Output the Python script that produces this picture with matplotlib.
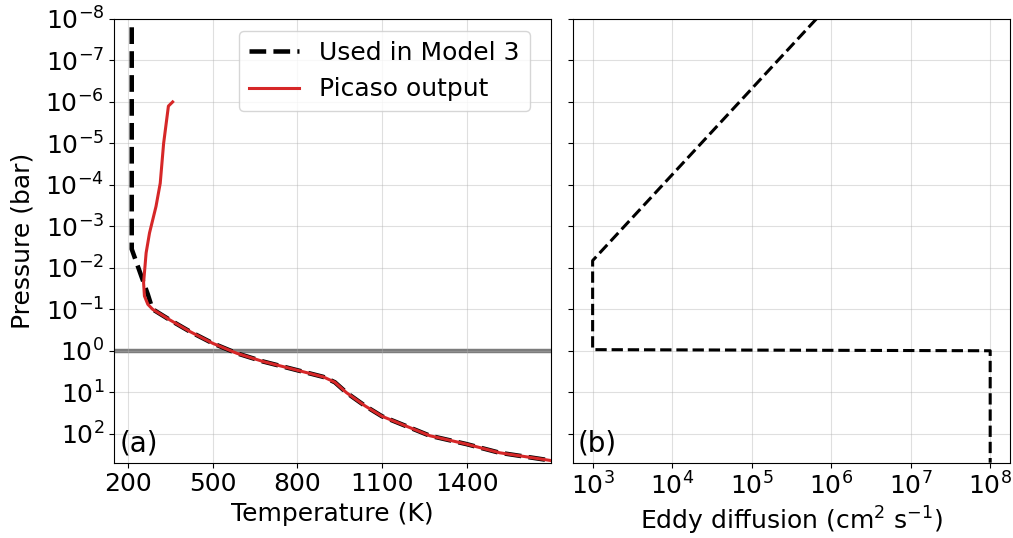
import numpy as np
import matplotlib
matplotlib.use("Agg")
import matplotlib.pyplot as plt
from matplotlib.ticker import LogFormatterSciNotation, NullLocator

plt.rcParams['font.family'] = ['DejaVu Sans']
plt.rcParams['font.size'] = 18

# ---- Data -------------------------------------------------------------
# Panel (a): temperature profiles (pressure in bar, temperature in K)
model3_logP = [-7.8, -2.45, -1.36, -1.10, -0.98, -0.74, -0.46, -0.18, 0.06,
               0.26, 0.47, 0.63, 0.76, 1.01, 1.33, 1.58, 2.05, 2.25, 2.46, 2.70]
model3_T = [213, 213, 270, 282, 292, 349, 420, 500, 585,
            679, 800, 892, 933, 974, 1040, 1100, 1270, 1399, 1517, 1750]

picaso_logP = [-6.0, -5.9, -5.0, -4.04, -3.48, -2.84, -2.36, -1.64, -1.32,
               -1.12, -1.0, -0.74, -0.46, -0.18, 0.06, 0.26, 0.47, 0.63,
               0.76, 1.01, 1.33, 1.58, 2.05, 2.25, 2.46, 2.70]
picaso_T = [358, 343, 326, 314, 299, 276, 264, 255, 258,
            270, 287, 349, 420, 500, 585, 679, 800, 892,
            933, 974, 1040, 1100, 1270, 1399, 1517, 1750]

P_ref = 1.0  # horizontal reference line (bar)

# Panel (b): eddy diffusion profile
kzz_P = [1e-8, 6.7e-3, 0.94, 1.0, 500]
kzz_K = [6.5e5, 1e3, 1e3, 1e8, 1e8]

T_ticks = [200, 500, 800, 1100, 1400]
P_ticks = [1e-8, 1e-7, 1e-6, 1e-5, 1e-4, 1e-3, 1e-2, 1e-1, 1e0, 1e1, 1e2]
K_ticks = [1e3, 1e4, 1e5, 1e6, 1e7, 1e8]

# ---- Figure -----------------------------------------------------------
fig, (ax1, ax2) = plt.subplots(1, 2, sharey=True, figsize=(10.13, 5.38), dpi=100)
ax1.set_position([0.1125, 0.140, 0.4317, 0.8247])
ax2.set_position([0.5654, 0.140, 0.4317, 0.8247])

model3_P = [10 ** v for v in model3_logP]
picaso_P = [10 ** v for v in picaso_logP]

ax1.axhline(P_ref, color='#6e6e6e', lw=3.2, alpha=0.9, zorder=1.5)
ax1.plot(model3_T, model3_P, color='black', ls='--', lw=3.25, label='Used in Model 3', zorder=2)
ax1.plot(picaso_T, picaso_P, color='#d62728', lw=2.2, label='Picaso output', zorder=3)

ax1.set_yscale('log')
ax1.set_ylim(500, 1e-8)
ax1.set_xlim(150, 1700)
ax1.set_xticks(T_ticks)
ax1.set_yticks(P_ticks)
ax1.yaxis.set_major_formatter(LogFormatterSciNotation())
ax1.yaxis.set_minor_locator(NullLocator())
ax1.set_xlabel('Temperature (K)')
ax1.set_ylabel('Pressure (bar)', labelpad=8)
ax1.grid(True, alpha=0.4)
ax1.text(0.012, 0.012, '(a)', transform=ax1.transAxes, ha='left', va='bottom', fontsize=20)
ax1.legend(loc='upper right', bbox_to_anchor=(0.951, 0.973), borderaxespad=0, fontsize=18)

ax2.plot(kzz_K, kzz_P, color='black', ls='--', lw=2.2)
ax2.set_xscale('log')
ax2.set_xticks(K_ticks)
ax2.xaxis.set_minor_locator(NullLocator())
ax2.yaxis.set_minor_locator(NullLocator())
ax2.set_xlabel(r'Eddy diffusion (cm$^2$ s$^{-1}$)')
ax2.tick_params(labelleft=False)
ax2.grid(True, alpha=0.4)
ax2.text(0.012, 0.012, '(b)', transform=ax2.transAxes, ha='left', va='bottom', fontsize=20)

fig.savefig('out.png', dpi=100)
